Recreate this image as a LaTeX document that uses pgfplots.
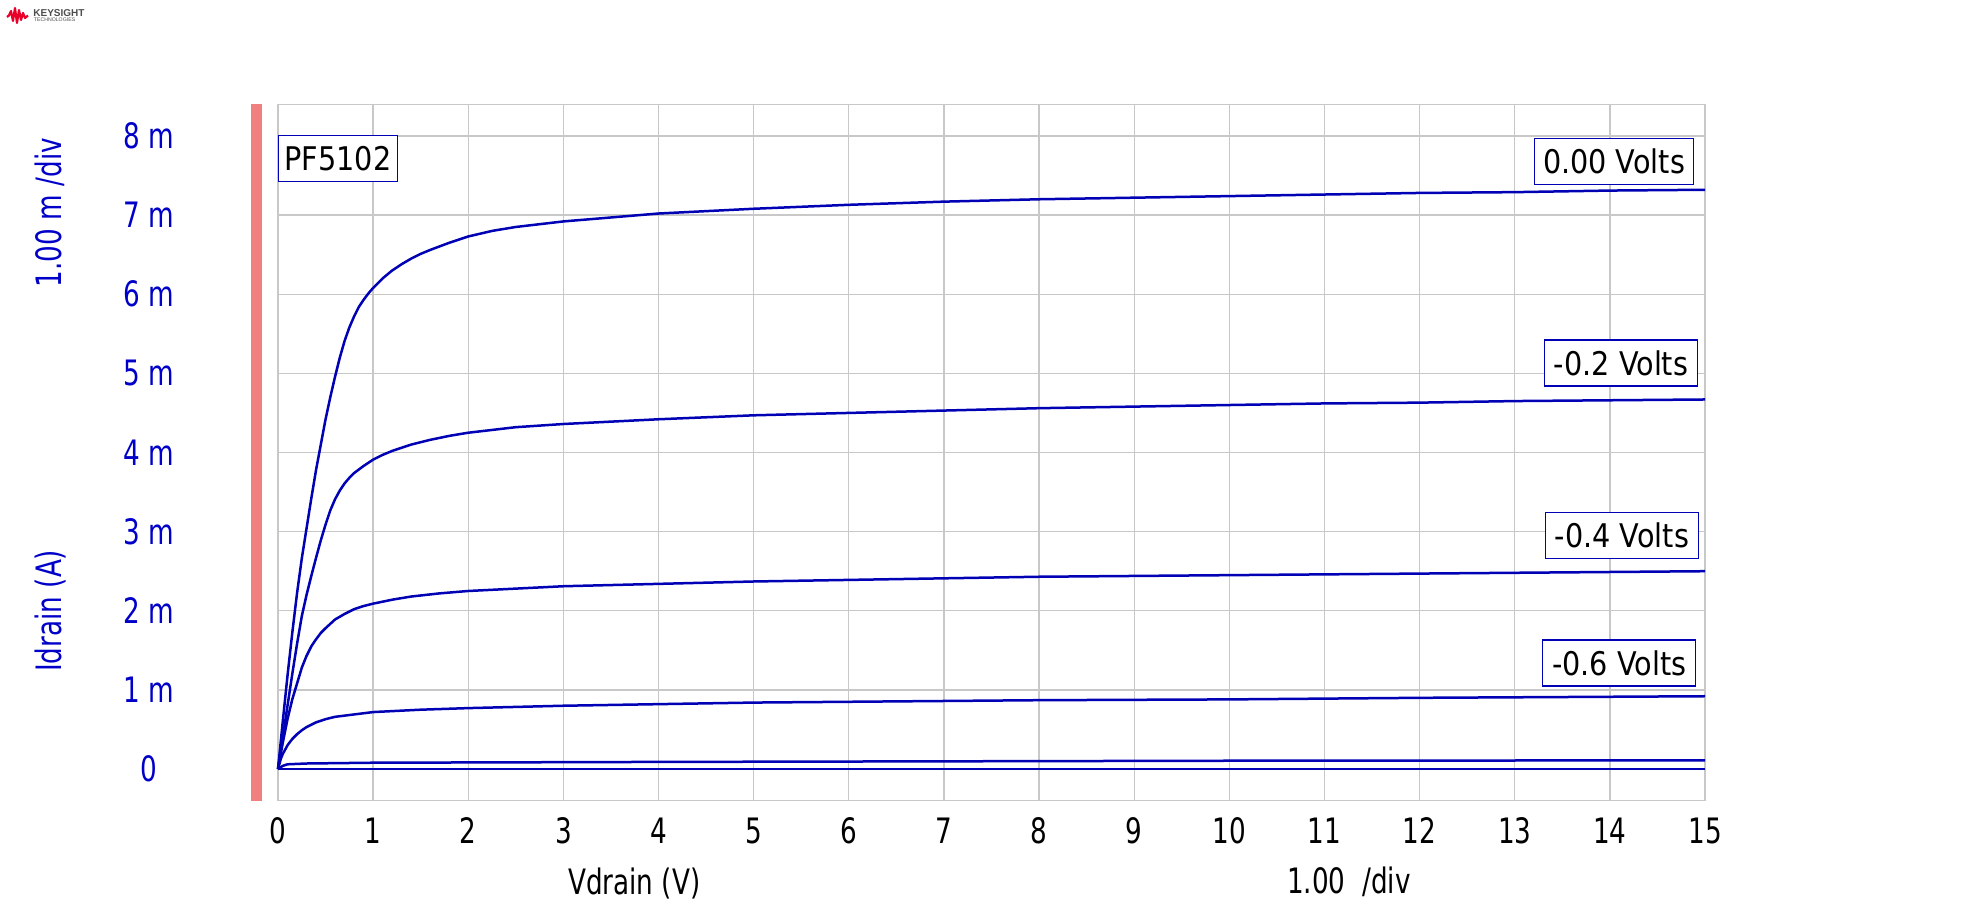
\documentclass[border=0pt]{standalone}
\usepackage{pgfplots}
\pgfplotsset{compat=1.18}
\usepackage{fontspec}
\setmainfont{DejaVu Sans}
\newfontfamily\tickfont{DejaVu Sans}[FakeStretch=0.75]
\newfontfamily\boxfont{DejaVu Sans}[FakeStretch=0.88]
\newfontfamily\logofont{Liberation Sans}
\definecolor{kblue}{HTML}{0000C8}
\definecolor{cblue}{HTML}{0000B4}
\definecolor{boxblue}{HTML}{0000B4}
\definecolor{gridgray}{HTML}{C8C8C8}
\definecolor{redbar}{HTML}{F08080}
\definecolor{logored}{HTML}{E90029}
\definecolor{logogray}{HTML}{4D4D4D}
\newcommand\tf{\tickfont\fontsize{17.5pt}{20pt}\selectfont}
\newcommand\bxf{\boxfont\fontsize{16.3pt}{18pt}\selectfont}
\tikzset{vbox/.style={draw=boxblue, line width=0.6pt, fill=white, inner sep=0pt,
  minimum height=23pt, anchor=north west, text=black, font=\bxf},
  curve/.style={cblue, solid, line width=1.25pt, line join=round, mark=none}}
\begin{document}
\begin{tikzpicture}
\useasboundingbox (0,0) rectangle (991pt,452.5pt);
\begin{scope}[shift={(0,452.5pt)}, x=0.5pt, y=-0.5pt]
\draw[logored, line width=1.1pt, line join=round] (7,17)--(9,15.5)--(11,11)--(13,21)--(15,8)--(17,23)--(19,10)--(21,20)--(23,13)--(25,18)--(28,15.5);
\node[anchor=base west, inner sep=0pt, text=logogray, font=\logofont\bfseries\fontsize{5pt}{6pt}\selectfont] at (33,16.7) {KEYSIGHT};
\node[anchor=base west, inner sep=0pt, text=logogray, font=\logofont\fontsize{2.6pt}{3pt}\selectfont] at (33.5,21.3) {TECHNOLOGIES};
\end{scope}
\begin{axis}[
  at={(139pt,52.15pt)}, anchor=south west,
  scale only axis, width=713.5pt, height=348.2pt,
  xmin=0, xmax=15, ymin=-0.4, ymax=8.4,
  xtick={0,1,2,3,4,5,6,7,8,9,10,11,12,13,14,15},
  xticklabels={0,1,2,3,4,5,6,7,8,9,10,11,12,13,14,15},
  ytick={0,1,2,3,4,5,6,7,8},
  yticklabels={0,1 m,2 m,3 m,4 m,5 m,6 m,7 m,8 m},
  major tick length=0pt,
  grid=major,
  grid style={gridgray, line width=0.65pt},
  axis line style={gridgray, line width=0.65pt},
  xticklabel style={font=\tf, anchor=center, yshift=-15pt, text=black},
  yticklabel style={font=\tf, anchor=center, xshift=-64.5pt, text=kblue},
  xlabel={Vdrain (V)},
  xlabel style={at={(axis description cs:0.2496,-0.134)}, anchor=base, font=\tf, text=black},
  ylabel={Idrain (A)},
  ylabel style={at={(axis description cs:-0.15158,0.2727)}, anchor=base, font=\tf, text=kblue},
  clip=false,
]
% Vgs = 0.00 V
\addplot[curve] coordinates {(0,0) (0.05,0.6) (0.1,1.18) (0.15,1.72) (0.2,2.22) (0.25,2.66) (0.3,3.04) (0.35,3.42) (0.4,3.78) (0.45,4.1) (0.5,4.42) (0.55,4.7) (0.6,4.96) (0.65,5.2) (0.7,5.41) (0.75,5.58) (0.8,5.72) (0.85,5.84) (0.9,5.93) (0.95,6.01) (1.0,6.08) (1.1,6.2) (1.2,6.3) (1.3,6.38) (1.4,6.45) (1.5,6.51) (1.6,6.56) (1.8,6.65) (2.0,6.73) (2.25,6.8) (2.5,6.85) (3,6.92) (3.5,6.97) (4,7.02) (4.5,7.05) (5,7.08) (6,7.13) (7,7.17) (8,7.2) (9,7.22) (10,7.24) (11,7.26) (12,7.28) (13,7.29) (14,7.31) (15,7.32)};
% Vgs = -0.2 V
\addplot[curve] coordinates {(0,0) (0.05,0.4) (0.1,0.8) (0.15,1.2) (0.2,1.58) (0.25,1.93) (0.3,2.2) (0.35,2.44) (0.4,2.67) (0.45,2.89) (0.5,3.09) (0.55,3.27) (0.6,3.41) (0.65,3.52) (0.7,3.61) (0.75,3.68) (0.8,3.74) (0.9,3.83) (1.0,3.91) (1.1,3.97) (1.2,4.02) (1.4,4.1) (1.6,4.16) (1.8,4.21) (2.0,4.25) (2.5,4.32) (3,4.36) (4,4.42) (5,4.47) (6,4.5) (7,4.53) (8,4.56) (9,4.58) (10,4.6) (11,4.62) (12,4.63) (13,4.65) (14,4.66) (15,4.67)};
% Vgs = -0.4 V
\addplot[curve] coordinates {(0,0) (0.05,0.33) (0.1,0.63) (0.15,0.88) (0.2,1.08) (0.25,1.28) (0.3,1.43) (0.35,1.55) (0.4,1.64) (0.45,1.72) (0.5,1.78) (0.6,1.89) (0.7,1.96) (0.8,2.02) (0.9,2.06) (1.0,2.09) (1.2,2.14) (1.4,2.18) (1.7,2.22) (2.0,2.25) (2.5,2.28) (3,2.31) (4,2.34) (5,2.37) (6,2.39) (7,2.41) (8,2.43) (10,2.45) (12,2.47) (15,2.5)};
% Vgs = -0.6 V
\addplot[curve] coordinates {(0,0) (0.03,0.13) (0.05,0.19) (0.1,0.3) (0.15,0.38) (0.2,0.44) (0.25,0.49) (0.3,0.53) (0.4,0.59) (0.5,0.63) (0.6,0.66) (0.8,0.69) (1.0,0.72) (1.5,0.75) (2,0.77) (3,0.8) (4,0.82) (5,0.84) (6,0.85) (8,0.87) (10,0.88) (12,0.9) (15,0.92)};
% Vgs = -0.8 V
\addplot[curve] coordinates {(0,0) (0.05,0.04) (0.1,0.06) (0.3,0.07) (1,0.08) (4,0.09) (10,0.105) (15,0.11)};
% Vgs = -1.0 V
\addplot[curve] coordinates {(0,0) (15,0)};
% annotations
\node[vbox, minimum width=59.5pt] at (axis cs:0,8.018) {PF5102};
\node[vbox, minimum width=79.5pt] at (axis cs:13.202,7.98) {0.00 Volts};
\node[vbox, minimum width=76.7pt] at (axis cs:13.305,5.428) {-0.2 Volts};
\node[vbox, minimum width=76.7pt] at (axis cs:13.315,3.25) {-0.4 Volts};
\node[vbox, minimum width=76.6pt] at (axis cs:13.287,1.638) {-0.6 Volts};
\node[anchor=base, inner sep=0pt, font=\tf, text=black] at (axis description cs:0.7505,-0.133) {1.00\ \ /div};
\node[anchor=base, rotate=90, inner sep=0pt, font=\tf, text=kblue] at (axis description cs:-0.15158,0.8446) {1.00 m /div};
\fill[redbar] ([xshift=-13.65pt]rel axis cs:0,0) rectangle ([xshift=-8pt]rel axis cs:0,1);
\end{axis}
\end{tikzpicture}
\end{document}
